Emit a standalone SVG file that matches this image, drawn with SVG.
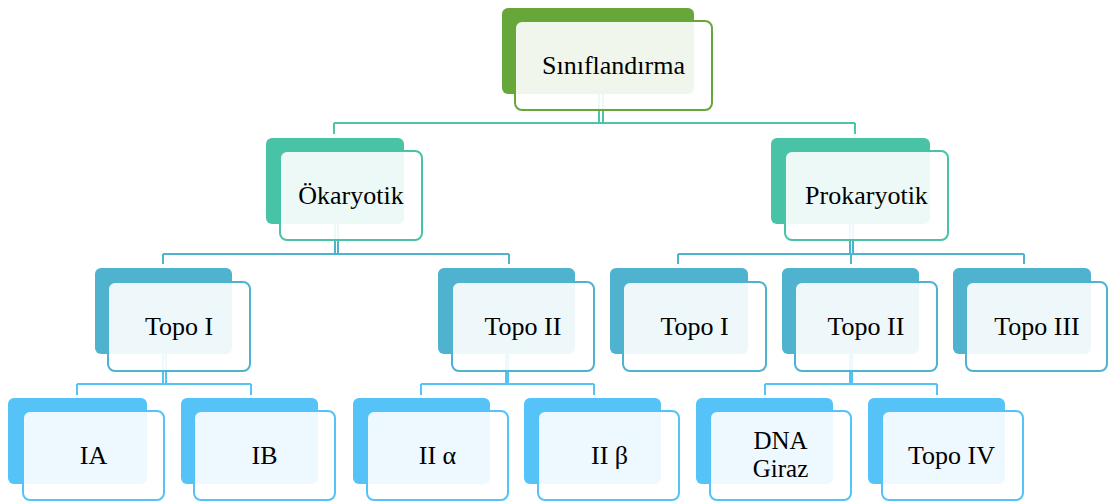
<svg xmlns="http://www.w3.org/2000/svg" width="1108" height="504" viewBox="0 0 1108 504">
<style>
.t{font-family:"Liberation Serif","Times New Roman",serif;font-size:26px;fill:#000;text-anchor:middle}
.s{font-size:25px}
.f{fill:#fff;fill-opacity:0.9;stroke-width:2}
.c1{stroke:#4bc4a7;stroke-width:2;fill:none}
.c2{stroke:#4fb3d0;stroke-width:2;fill:none}
.c3{stroke:#55c3f6;stroke-width:2;fill:none}
.g1 .d{fill:#67a73a}.g1 .f{stroke:#67a73a}
.g2 .d{fill:#48c3a5}.g2 .f{stroke:#48c3a5}
.g3 .d{fill:#4fb3d0}.g3 .f{stroke:#4fb3d0}
.g4 .d{fill:#55c3f8}.g4 .f{stroke:#55c3f8}
</style>
<rect width="1108" height="504" fill="#fff"/>
<g id="connectors">
<path class="c1" d="M599,94V123M603,94V123M334,123H855M334,123V134M855,123V134"/>
<path class="c2" d="M335,224V254M338,224V254M163,254H509M163,254V264M509,254V264"/>
<path class="c2" d="M850,224V254M853,224V254M678,254H1024M678,254V264M851,254V264M1024,254V264"/>
<path class="c3" d="M163,354V384M166,354V384M77,384H251M77,384V395M251,384V395"/>
<path class="c3" d="M506,354V384M508,354V384M421,384H594M421,384V395M594,384V395"/>
<path class="c3" d="M850,354V384M852,354V384M765,384H937M765,384V395M937,384V395"/>
</g>
<g id="n-sinif" class="g1"><rect class="d" x="502" y="8" width="192" height="86" rx="6"/><rect class="f" x="515" y="21" width="197" height="89" rx="7"/><text class="t" x="613.5" y="74">Sınıflandırma</text></g>
<g id="n-okar" class="g2"><rect class="d" x="266" y="138" width="138" height="86" rx="6"/><rect class="f" x="280" y="151" width="142" height="89" rx="7"/><text class="t" x="351" y="204">Ökaryotik</text></g>
<g id="n-prok" class="g2"><rect class="d" x="771" y="138" width="159" height="86" rx="6"/><rect class="f" x="785" y="151" width="163" height="89" rx="7"/><text class="t" x="866.5" y="204">Prokaryotik</text></g>
<g id="n-e-topo1" class="g3"><rect class="d" x="95" y="268" width="137" height="86" rx="6"/><rect class="f" x="108" y="282" width="142" height="89" rx="7"/><text class="t" x="179" y="335">Topo I</text></g>
<g id="n-e-topo2" class="g3"><rect class="d" x="438" y="268" width="137" height="86" rx="6"/><rect class="f" x="452" y="282" width="142" height="89" rx="7"/><text class="t" x="523" y="335">Topo II</text></g>
<g id="n-p-topo1" class="g3"><rect class="d" x="610" y="268" width="138" height="86" rx="6"/><rect class="f" x="623" y="282" width="143" height="89" rx="7"/><text class="t" x="694.5" y="335">Topo I</text></g>
<g id="n-p-topo2" class="g3"><rect class="d" x="782" y="268" width="137" height="86" rx="6"/><rect class="f" x="795" y="282" width="142" height="89" rx="7"/><text class="t" x="866" y="335">Topo II</text></g>
<g id="n-p-topo3" class="g3"><rect class="d" x="953" y="268" width="138" height="86" rx="6"/><rect class="f" x="966" y="282" width="141" height="89" rx="7"/><text class="t" x="1037" y="335">Topo III</text></g>
<g id="n-ia" class="g4"><rect class="d" x="8" y="398" width="139" height="86" rx="6"/><rect class="f" x="23" y="411" width="141" height="89" rx="7"/><text class="t" x="93.5" y="464">IA</text></g>
<g id="n-ib" class="g4"><rect class="d" x="181" y="398" width="137" height="86" rx="6"/><rect class="f" x="194" y="411" width="141" height="89" rx="7"/><text class="t" x="264.5" y="464">IB</text></g>
<g id="n-iia" class="g4"><rect class="d" x="353" y="398" width="137" height="86" rx="6"/><rect class="f" x="367" y="411" width="141" height="89" rx="7"/><text class="t" x="437.5" y="464">II α</text></g>
<g id="n-iib" class="g4"><rect class="d" x="524" y="398" width="137" height="86" rx="6"/><rect class="f" x="538" y="411" width="141" height="89" rx="7"/><text class="t" x="609.5" y="464">II β</text></g>
<g id="n-dna" class="g4"><rect class="d" x="696" y="398" width="137" height="86" rx="6"/><rect class="f" x="710" y="411" width="141" height="89" rx="7"/><text class="t s" x="780.5" y="449">DNA</text><text class="t s" x="780.5" y="477">Giraz</text></g>
<g id="n-topo4" class="g4"><rect class="d" x="868" y="398" width="137" height="86" rx="6"/><rect class="f" x="882" y="411" width="141" height="89" rx="7"/><text class="t" x="951.5" y="464">Topo IV</text></g>
</svg>
